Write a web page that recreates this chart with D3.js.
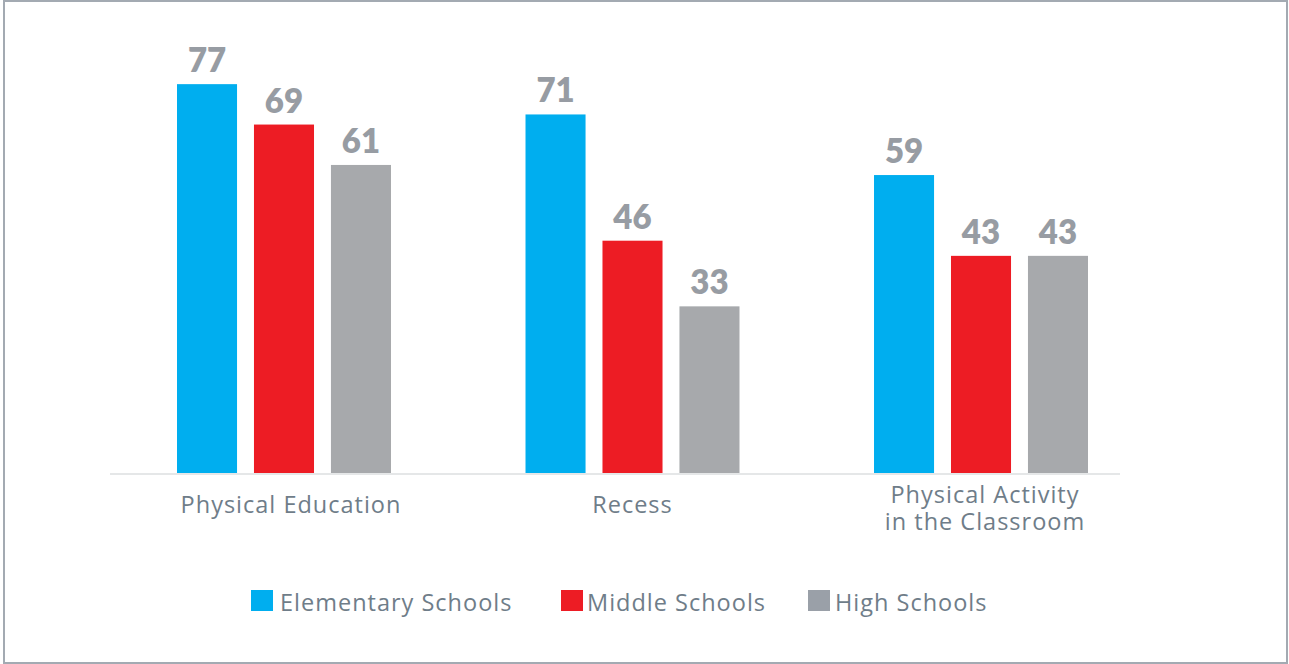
<!DOCTYPE html>
<html lang="en">
<head>
    <meta charset="UTF-8">
    <title>Physical activity in schools</title>
    <script src="https://d3js.org/d3.v7.min.js"></script>
    <style>
        html, body { margin: 0; padding: 0; background: #fff; }
        svg { display: block; }
    </style>
</head>
<body>
    <svg id="chart"></svg>
    <script>
        const width = 1289;
        const height = 664;

        const categories = ["Physical Education", "Recess", "Physical Activity\nin the Classroom"];
        const seriesNames = ["Elementary Schools", "Middle Schools", "High Schools"];
        const elementary = [77, 71, 59];
        const middle = [69, 46, 43];
        const high = [61, 33, 43];
        const barColors = ["#00aeef", "#ed1c24", "#a7a9ac"];
        const legendColors = ["#00aeef", "#ed1c24", "#9aa0a8"];

        const seriesValues = [elementary, middle, high];
        const labelColor = "#6f7d89";
        const valueColor = "#979ca3";
        const textFont = "'Open Sans', sans-serif";
        const valueFont = "Lato, 'Open Sans', sans-serif";

        const svg = d3.select("#chart")
            .attr("width", width)
            .attr("height", height);

        // frame
        svg.append("rect")
            .attr("x", 4).attr("y", 1)
            .attr("width", 1283).attr("height", 662)
            .attr("fill", "#fff")
            .attr("stroke", "#a3aab2")
            .attr("stroke-width", 2);

        const x0 = d3.scaleBand()
            .domain(categories)
            .range([107.3, 1157.7])
            .paddingInner(0.386)
            .paddingOuter(0.2);

        const x1 = d3.scaleBand()
            .domain(seriesNames)
            .range([0, x0.bandwidth()])
            .paddingInner(0.22);

        const y = d3.scaleLinear()
            .domain([0, 80])
            .range([473, 69]);

        // baseline
        svg.append("line")
            .attr("x1", 110).attr("x2", 1120)
            .attr("y1", y(0) + 1).attr("y2", y(0) + 1)
            .attr("stroke", "#dcdfe1")
            .attr("stroke-width", 1.5);

        const groups = svg.append("g")
            .selectAll("g")
            .data(categories)
            .join("g")
            .attr("transform", d => `translate(${x0(d)},0)`);

        const cells = groups.selectAll("g")
            .data((c, ci) => seriesNames.map((s, si) => ({ series: s, si: si, value: seriesValues[si][ci] })))
            .join("g");

        cells.append("rect")
            .attr("x", d => x1(d.series))
            .attr("y", d => y(d.value))
            .attr("width", x1.bandwidth())
            .attr("height", d => y(0) - y(d.value))
            .attr("fill", d => barColors[d.si]);

        cells.append("text")
            .attr("x", d => x1(d.series) + x1.bandwidth() / 2)
            .attr("y", d => y(d.value) - 12)
            .attr("text-anchor", "middle")
            .attr("fill", valueColor)
            .style("font-family", valueFont)
            .style("font-weight", 800)
            .style("font-size", "33px")
            .text(d => d.value);

        // category labels
        const labelShift = [7, 0, 4];
        const catLabels = svg.append("g")
            .selectAll("text")
            .data(categories)
            .join("text")
            .attr("x", (d, i) => x0(d) + x0.bandwidth() / 2 + labelShift[i])
            .attr("y", d => d.includes("\n") ? 503 : 513)
            .attr("text-anchor", "middle")
            .attr("fill", labelColor)
            .style("font-family", textFont)
            .style("font-size", "23.5px")
            .style("letter-spacing", "1px");

        catLabels.selectAll("tspan")
            .data(d => d.split("\n"))
            .join("tspan")
            .attr("x", function () { return d3.select(this.parentNode).attr("x"); })
            .attr("dy", (d, i) => i === 0 ? 0 : 27)
            .text(d => d);

        // legend
        const legendX = [251, 561, 808];
        const legendGap = [29, 26, 27];
        const legend = svg.append("g")
            .selectAll("g")
            .data(seriesNames)
            .join("g")
            .attr("transform", (d, i) => `translate(${legendX[i]},590)`);

        legend.append("rect")
            .attr("width", 22)
            .attr("height", 21)
            .attr("fill", (d, i) => legendColors[i]);

        legend.append("text")
            .attr("x", (d, i) => legendGap[i])
            .attr("y", 20.5)
            .attr("fill", labelColor)
            .style("font-family", textFont)
            .style("font-size", "23.5px")
            .style("letter-spacing", "1px")
            .text(d => d);
    </script>
</body>
</html>
